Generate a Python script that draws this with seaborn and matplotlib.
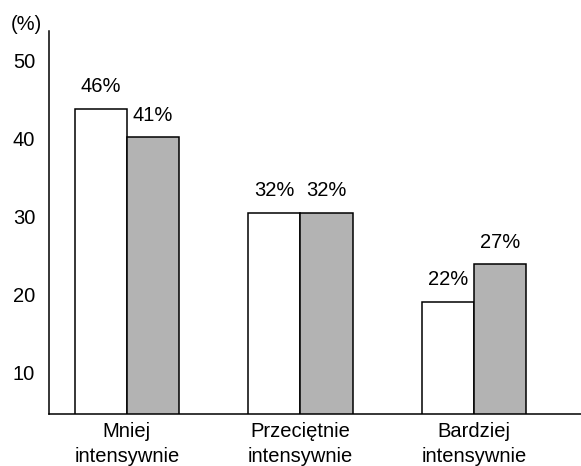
import numpy as np
import pandas as pd
import seaborn as sns
import matplotlib
matplotlib.use('Agg')
import matplotlib.pyplot as plt

# categories and series (bar heights as drawn in the reference)
categories = ['Mniej\nintensywnie', 'Przeciętnie\nintensywnie', 'Bardziej\nintensywnie']
series = ['A', 'B']
heights_a = [43.7, 30.4, 19.0]
heights_b = [40.1, 30.4, 23.8]
labels_a = ['46%', '32%', '22%']
labels_b = ['41%', '32%', '27%']
yticks = [10, 20, 30, 40, 50]

df = pd.DataFrame({
    'kategoria': categories * 2,
    'grupa': [series[0]] * 3 + [series[1]] * 3,
    'wartosc': heights_a + heights_b,
})

sns.set_style('white')
plt.rcParams['font.family'] = ['Liberation Sans', 'DejaVu Sans']
plt.rcParams['text.color'] = 'black'
plt.rcParams['xtick.color'] = 'black'
plt.rcParams['ytick.color'] = 'black'
fs = 14.5

fig = plt.figure(figsize=(5.81, 4.66), dpi=100)
ax = fig.add_axes([49/581, 1 - 414/466, 1 - 49/581, (414 - 31)/466])

sns.barplot(data=df, x='kategoria', y='wartosc', hue='grupa',
            palette=['white', '#b3b3b3'], width=0.6, gap=0,
            edgecolor='black', linewidth=1.1, legend=False, ax=ax)

# value labels above the bars
for cont, labs in zip(ax.containers, [labels_a, labels_b]):
    for bar, lab in zip(cont, labs):
        ax.annotate(lab, (bar.get_x() + bar.get_width() / 2, bar.get_height()),
                    xytext=(0, 16), textcoords='offset points',
                    ha='center', va='center', fontsize=fs, color='black')

ax.set_xlim(-0.448, 2.615)
ax.set_ylim(4.62, 53.72)
ax.set_yticks(yticks)
ax.set_xlabel('')
ax.set_ylabel('')
ax.tick_params(axis='y', length=0, pad=10, labelsize=fs, labelcolor='black')
ax.tick_params(axis='x', length=0, pad=6, labelsize=fs, labelcolor='black')
for t in ax.get_xticklabels():
    t.set_linespacing(1.35)
sns.despine(ax=ax, top=True, right=True)
ax.spines['left'].set_color('black')
ax.spines['bottom'].set_color('black')
ax.spines['left'].set_linewidth(1.1)
ax.spines['bottom'].set_linewidth(1.1)

fig.text(26/581, 1 - 25/466, '(%)', ha='center', va='center', fontsize=fs)

fig.savefig('out.png', dpi=100)
